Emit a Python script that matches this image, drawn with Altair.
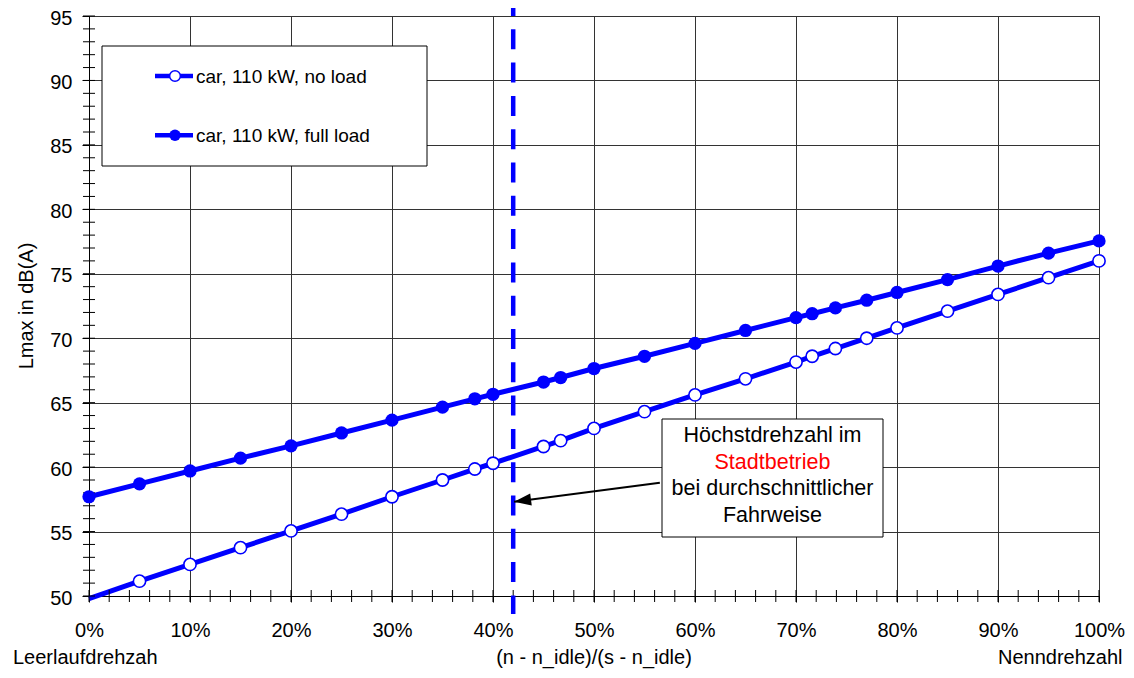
import altair as alt
import pandas as pd

# ---------------- data ----------------
x_share = [0.0, 0.05, 0.10, 0.15, 0.20, 0.25, 0.30, 0.35, 0.382, 0.40, 0.45, 0.467,
           0.50, 0.55, 0.60, 0.65, 0.70, 0.716, 0.739, 0.77, 0.80, 0.85, 0.90, 0.95, 1.00]
lmax_no_load = [49.8, 51.15, 52.45, 53.75, 55.05, 56.35, 57.7, 59.0, 59.85, 60.3, 61.6, 62.05,
                63.0, 64.3, 65.6, 66.85, 68.15, 68.6, 69.2, 70.0, 70.8, 72.1, 73.4, 74.7, 76.0]
lmax_full_load = [57.7, 58.7, 59.7, 60.7, 61.65, 62.65, 63.65, 64.65, 65.3, 65.65, 66.6, 66.95,
                  67.65, 68.6, 69.6, 70.6, 71.6, 71.9, 72.35, 72.95, 73.55, 74.55, 75.6, 76.6, 77.55]
series_names = ["car, 110 kW, no load", "car, 110 kW, full load"]

x_major = [0.0, 0.1, 0.2, 0.3, 0.4, 0.5, 0.6, 0.7, 0.8, 0.9, 1.0]
y_major = [50, 55, 60, 65, 70, 75, 80, 85, 90, 95]
x_minor = [i / 50 for i in range(51)]
y_minor = list(range(50, 96))
x_domain = [0, 1]
y_domain = [50, 95]

city_limit = [0.42]
arrow_start = [0.5652, 58.79]
arrow_end = [0.4209, 57.32]

note_lines = ["Höchstdrehzahl im", "Stadtbetrieb", "bei durchschnittlicher", "Fahrweise"]
note_colors = ["black", "#FF0000", "black", "black"]
x_title = "(n - n_idle)/(s - n_idle)"
y_title = "Lmax in dB(A)"
left_note = "Leerlaufdrehzah"
right_note = "Nenndrehzahl"

# ---------------- styling ----------------
W, H = 1010, 580
PAD_L = 81
BLUE = "#0000FF"
FONT = "Liberation Sans"
GRID = "#333333"

df = pd.DataFrame({
    "x": x_share * 2,
    "y": lmax_no_load + lmax_full_load,
    "series": [series_names[0]] * len(x_share) + [series_names[1]] * len(x_share),
})

xscale = alt.Scale(domain=x_domain, nice=False, zero=False)
yscale = alt.Scale(domain=y_domain, nice=False, zero=False)

x_axis = alt.Axis(values=x_major, format=".0%", title=None, grid=True, gridColor=GRID,
                  gridWidth=1, gridOpacity=1, domainColor="black", domainWidth=1,
                  tickColor="black", tickSize=6, tickWidth=1, labelFontSize=20, labelFont=FONT,
                  labelColor="black", labelPadding=18, labelFlush=False, labelOverlap=False)
y_axis = alt.Axis(values=y_major, title=None, grid=True, gridColor=GRID, gridWidth=1,
                  gridOpacity=1, domainColor="black", domainWidth=1, tickColor="black",
                  tickSize=7, tickWidth=1, labelFontSize=20, labelFont=FONT, labelColor="black",
                  labelPadding=10, labelOffset=2, labelFlush=False, labelOverlap=False)


def X(field="x"):
    return alt.X(f"{field}:Q", scale=xscale, axis=x_axis, title=None)


def Y(field="y"):
    return alt.Y(f"{field}:Q", scale=yscale, axis=y_axis, title=None)


def px(page_x):
    """page x position -> plot-relative x position"""
    return page_x - 8 - PAD_L


one = pd.DataFrame({"k": [0]})

lines = alt.Chart(df).mark_line(color=BLUE, strokeWidth=5).encode(
    x=X(), y=Y(), detail="series:N",
)

full_pts = alt.Chart(df).transform_filter(
    alt.datum.series == series_names[1]
).mark_point(shape="circle", filled=True, color=BLUE, size=175, opacity=1).encode(x=X(), y=Y())

open_pts = alt.Chart(df).transform_filter(
    (alt.datum.series == series_names[0]) & (alt.datum.y >= y_domain[0])
).mark_point(shape="circle", filled=True, fill="white", stroke=BLUE, strokeWidth=1.6,
             size=150, opacity=1).encode(x=X(), y=Y())

xminor = alt.Chart(pd.DataFrame({"x": x_minor})).mark_rule(color="black", strokeWidth=1).encode(
    x=X(), y=alt.value(H - 6), y2=alt.value(H + 6))
yminor = alt.Chart(pd.DataFrame({"y": y_minor})).mark_rule(color="black", strokeWidth=1).encode(
    y=Y(), x=alt.value(-6), x2=alt.value(6))

dash = alt.Chart(pd.DataFrame({"x": city_limit})).mark_rule(
    color=BLUE, strokeWidth=4.5, strokeDash=[20, 13.3], strokeDashOffset=12
).encode(x=X(), y=alt.value(-8), y2=alt.value(H + 18))

# legend (drawn by hand, like the boxed legend of the reference)
legend_box = alt.Chart(one).mark_rect(fill="white", stroke="black", strokeWidth=1).encode(
    x=alt.value(px(102)), x2=alt.value(px(427)), y=alt.value(30), y2=alt.value(150))


def legend_row(label, y_sym, y_txt, hollow):
    d = pd.DataFrame({"t": [label]})
    seg = alt.Chart(d).mark_rule(color=BLUE, strokeWidth=4.5).encode(
        x=alt.value(px(155)), x2=alt.value(px(193)), y=alt.value(y_sym))
    if hollow:
        sym = alt.Chart(d).mark_point(shape="circle", filled=True, fill="white", stroke=BLUE,
                                      strokeWidth=1.5, size=115, opacity=1)
    else:
        sym = alt.Chart(d).mark_point(shape="circle", filled=True, color=BLUE, size=130, opacity=1)
    sym = sym.encode(x=alt.value(px(175)), y=alt.value(y_sym))
    txt = alt.Chart(d).mark_text(align="left", baseline="alphabetic", fontSize=19, font=FONT,
                                 color="black").encode(
        x=alt.value(px(196)), y=alt.value(y_txt), text="t:N")
    return [seg, sym, txt]


legend_layers = legend_row(series_names[0], 60, 67.3, True) + legend_row(series_names[1], 119.3, 126.3, False)

# annotation box with arrow
note_box = alt.Chart(one).mark_rect(fill="white", stroke="black", strokeWidth=1).encode(
    x=alt.value(px(662)), x2=alt.value(px(883)), y=alt.value(403), y2=alt.value(521))
note_texts = []
for line, col, yb in zip(note_lines, note_colors, [426, 452.5, 479, 505.7]):
    note_texts.append(
        alt.Chart(pd.DataFrame({"t": [line]})).mark_text(
            align="center", baseline="alphabetic", fontSize=21.5, font=FONT, color=col
        ).encode(x=alt.value(px(772.5)), y=alt.value(yb), text="t:N"))

arrow_df = pd.DataFrame({"x": [arrow_start[0]], "y": [arrow_start[1]],
                         "x2": [arrow_end[0]], "y2": [arrow_end[1]]})
arrow_line = alt.Chart(arrow_df).mark_rule(color="black", strokeWidth=2).encode(
    x=X("x"), y=Y("y"), x2="x2:Q", y2="y2:Q")
arrow_head = alt.Chart(arrow_df).mark_point(
    shape="M0,0 L1,-0.36 L1,0.36 Z", filled=True, color="black", size=1156, opacity=1,
    angle=352.6
).encode(x=X("x2"), y=Y("y2"))


# titles and end notes
def label(text, x, y, align="center", angle=0):
    kw = dict(align=align, baseline="alphabetic", fontSize=20, font=FONT, color="black")
    if angle:
        kw.update(angle=angle, baseline="middle")
    return alt.Chart(pd.DataFrame({"t": [text]})).mark_text(**kw).encode(
        x=alt.value(x), y=alt.value(y), text="t:N")


titles = [
    label(x_title, W / 2, 648),
    label(left_note, px(13), 648, align="left"),
    label(right_note, px(998), 648, align="left"),
    label(y_title, px(27), H / 2, angle=270),
]

chart = alt.layer(
    lines, xminor, yminor, dash, open_pts, full_pts,
    legend_box, *legend_layers,
    note_box, *note_texts, arrow_line, arrow_head,
    *titles,
).properties(
    width=W, height=H,
    autosize=alt.AutoSizeParams(type="none"),
    padding={"left": PAD_L, "top": 8, "right": 1118 - PAD_L - W, "bottom": 74},
    background="white",
).configure_view(stroke="black", strokeWidth=1)

chart.save("out.html", embed_options={"renderer": "svg", "actions": False})
